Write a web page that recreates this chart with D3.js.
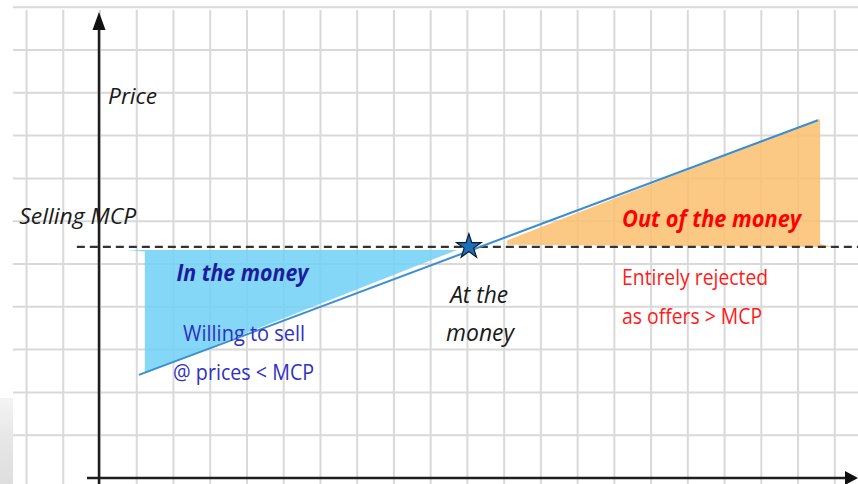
<!DOCTYPE html>
<html>
<head>
<meta charset="utf-8">
<script src="https://cdn.jsdelivr.net/npm/d3@7"></script>
<style>
  html, body { margin: 0; padding: 0; background: #fff; }
  svg { display: block; }
</style>
</head>
<body>
<div id="chart"></div>
<script>
// grid units along quantity (x) and price (y)
const gridCols = d3.range(-2, 22);
const gridRows = d3.range(1, 12);

// supply (offer) curve, in grid units
const supplyLine = [[1.06, 2.41], [19.54, 8.36]];
const mcp = 5.4;
const atTheMoney = [10.04, 5.43];

// shaded regions
const inTheMoney = [[0.73, 5.33], [1.22, 5.29], [1.22, 2.45], [9.72, 5.33]];
const outOfMoney = [[11.08, 5.55], [19.54, 8.38], [19.6, 8.38], [19.6, 5.47], [19.96, 5.4], [11.08, 5.45]];

// annotations: [text, q, p, kind]
const labels = [
  ["Price", 0.22, 8.75, "axis"],
  ["Selling MCP", -2.2, 5.93, "axis"],
  ["In the money", 2.08, 4.6, "inBold"],
  ["Willing to sell", 2.26, 3.2, "inText"],
  ["@ prices < MCP", 1.99, 2.3, "inText"],
  ["At the", 9.53, 4.1, "atText"],
  ["money", 9.42, 3.2, "atText"],
  ["Out of the money", 14.21, 5.87, "outBold"],
  ["Entirely rejected", 14.21, 4.5, "outText"],
  ["as offers > MCP", 14.21, 3.6, "outText"]
];
const labelWidths = {
  "Price": 49, "Selling MCP": 117, "In the money": 132, "Willing to sell": 122,
  "@ prices < MCP": 141, "At the": 58, "money": 68, "Out of the money": 179,
  "Entirely rejected": 146, "as offers > MCP": 140
};

const width = 858, height = 484;

const x = d3.scaleLinear().domain([0, 1]).range([100, 136.74]);
const y = d3.scaleLinear().domain([0, 1]).range([478, 435.2]);

const svg = d3.select("#chart").append("svg")
  .attr("width", width)
  .attr("height", height)
  .style("font-family", "'Open Sans', sans-serif");

// faint grey smudge at bottom-left corner
const defs = svg.append("defs");
const grad = defs.append("linearGradient")
  .attr("id", "smudge").attr("x1", 0).attr("x2", 0).attr("y1", 0).attr("y2", 1);
grad.append("stop").attr("offset", "0").attr("stop-color", "#f4f4f4");
grad.append("stop").attr("offset", "0.5").attr("stop-color", "#e6e6e6");
grad.append("stop").attr("offset", "1").attr("stop-color", "#dedede");
svg.append("rect")
  .attr("x", 0).attr("y", 398).attr("width", 13).attr("height", height - 398)
  .attr("fill", "url(#smudge)");

// grid
const grid = svg.append("g").attr("stroke", "#d9d9d9").attr("stroke-width", 2);
grid.selectAll("line.v")
  .data(gridCols)
  .join("line")
    .attr("class", "v")
    .attr("x1", d => x(d)).attr("x2", d => x(d))
    .attr("y1", 10).attr("y2", height);
grid.selectAll("line.h")
  .data(gridRows)
  .join("line")
    .attr("class", "h")
    .attr("x1", 13).attr("x2", width)
    .attr("y1", d => y(d)).attr("y2", d => y(d));

const area = d3.line().x(d => x(d[0])).y(d => y(d[1]));

// shaded areas
svg.append("path")
  .attr("d", area(inTheMoney) + "Z")
  .attr("fill", "#6fd0f4")
  .attr("fill-opacity", 0.85);

svg.append("path")
  .attr("d", area(outOfMoney) + "Z")
  .attr("fill", "#fcbf6e")
  .attr("fill-opacity", 0.85);

// MCP dashed line
svg.append("line")
  .attr("x1", x(-0.63)).attr("x2", width)
  .attr("y1", y(mcp)).attr("y2", y(mcp))
  .attr("stroke", "#333")
  .attr("stroke-width", 2.2)
  .attr("stroke-dasharray", "8,5");

// supply line
svg.append("path")
  .attr("d", area(supplyLine))
  .attr("fill", "none")
  .attr("stroke", "#3a8ed4")
  .attr("stroke-width", 2);

// axes with arrowheads
const ax = svg.append("g").attr("stroke", "#1e1e1e").attr("stroke-width", 2.5);
ax.append("line")
  .attr("x1", 99).attr("x2", 99)
  .attr("y1", 28).attr("y2", height);
ax.append("line")
  .attr("x1", 87).attr("x2", 848)
  .attr("y1", y(0)).attr("y2", y(0));
svg.append("path")
  .attr("d", "M99,12 L105.5,30 L92.5,30 Z")
  .attr("fill", "#111");
svg.append("path")
  .attr("d", `M858,${y(0)} L845,${y(0) - 7} L845,${y(0) + 7} Z`)
  .attr("fill", "#111");

// star at the money
svg.append("path")
  .attr("d", d3.symbol(d3.symbolStar, 190)())
  .attr("transform", `translate(${x(atTheMoney[0])},${y(atTheMoney[1]) + 1})`)
  .attr("fill", "#1d6fb8")
  .attr("stroke", "#0d1b2a")
  .attr("stroke-width", 1.2);

// labels
const styles = {
  axis:    { size: 22, weight: 400, italic: true,  fill: "#1a1a1a" },
  inBold:  { size: 23, weight: 700, italic: true,  fill: "#1c1ca0" },
  inText:  { size: 22, weight: 400, italic: false, fill: "#3030c4" },
  atText:  { size: 23, weight: 400, italic: true,  fill: "#1a1a1a" },
  outBold: { size: 24, weight: 700, italic: true,  fill: "#ff0000" },
  outText: { size: 22, weight: 400, italic: false, fill: "#ff1a1a" }
};

svg.append("g")
  .selectAll("text")
  .data(labels)
  .join("text")
    .attr("x", d => x(d[1]))
    .attr("y", d => y(d[2]))
    .attr("font-size", d => styles[d[3]].size)
    .attr("font-weight", d => styles[d[3]].weight)
    .attr("font-style", d => styles[d[3]].italic ? "italic" : "normal")
    .attr("fill", d => styles[d[3]].fill)
    .attr("textLength", d => labelWidths[d[0]])
    .attr("lengthAdjust", "spacingAndGlyphs")
    .text(d => d[0]);
</script>
</body>
</html>
